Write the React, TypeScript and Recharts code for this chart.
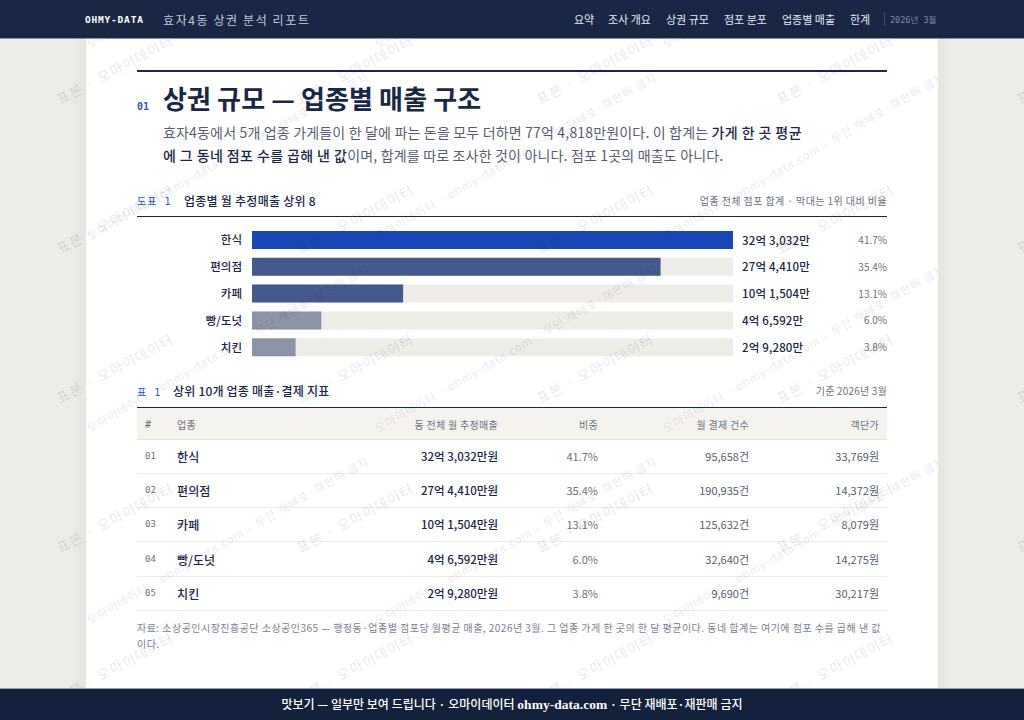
import type { CSSProperties, ReactNode } from "react";
import { BarChart, Bar, Cell, XAxis, YAxis, LabelList } from "recharts";

const categories = ["한식", "편의점", "카페", "빵/도넛", "치킨"];
const monthlySales = [323032, 274410, 101504, 46592, 29280]; // 만원
const shares = [41.7, 35.4, 13.1, 6.0, 3.8];
const payments = [95658, 190935, 125632, 32640, 9690];
const ticketPrices = [33769, 14372, 8079, 14275, 30217];
const navItems = ["요약", "조사 개요", "상권 규모", "점포 분포", "업종별 매출", "한계"];
const navLefts = [574, 608, 666, 724, 782, 850];

const barColors = ["#1a47b8", "#44598c", "#44598c", "#8b93a7", "#8b93a7"];

const NAVY = "#1a2744";
const BLUE = "#2f55c4";
const GRAY = "#6b7280";
const BODY = "#565e6e";
const SANS = "'Noto Sans CJK KR', 'Noto Sans', sans-serif";
const MONO = "'DejaVu Sans Mono', 'Noto Sans CJK KR', monospace";

const chartData = categories.map((name, i) => ({
  name,
  sales: monthlySales[i],
  share: shares[i],
}));

const salesLabel = (v: number) => `${Math.floor(v / 10000)}억 ${(v % 10000).toLocaleString("en-US")}만`;

function T({ x, y, right, style, children }: { x?: number; y: number; right?: number; style?: CSSProperties; children: ReactNode }) {
  // y is the vertical centre of the line
  return (
    <div
      style={{
        position: "absolute",
        left: x,
        right: right !== undefined ? 1024 - right : undefined,
        top: y,
        transform: "translateY(-50%)",
        whiteSpace: "nowrap",
        fontFamily: SANS,
        ...style,
      }}
    >
      {children}
    </div>
  );
}

function ValueLabels(props: any) {
  const { x, y, height, index } = props;
  const cy = y + height / 2 + 0.5;
  const row = chartData[index];
  // plot right edge is x + 481, the track width
  return (
    <g>
      <text x={x + 490} y={cy} dy="0.35em" fontSize={11.5} fontWeight={500} letterSpacing={0.15} fill={NAVY} fontFamily={SANS}>
        {salesLabel(row.sales)}
      </text>
      <text x={x + 635} y={cy} dy="0.35em" fontSize={10} textAnchor="end" fill={GRAY} fontFamily={SANS}>
        {row.share.toFixed(1)}%
      </text>
    </g>
  );
}

function Watermarks() {
  const big = [];
  for (let r = 0; r < 5; r++) {
    for (let c = 0; c < 5; c++) {
      const x = 60 + c * 240;
      const y = 105 + r * 149.5;
      big.push(
        <text key={`a${r}${c}`} x={x} y={y} transform={`rotate(-28 ${x} ${y})`} fontSize={14} letterSpacing={1.2} fill="#1a2744" fillOpacity={0.13} fontFamily={SANS}>
          표본 · 오마이데이터
        </text>
      );
    }
  }
  const small = [];
  for (let r = 0; r < 4; r++) {
    for (let c = 0; c < 3; c++) {
      const x = 4 + c * 288;
      const y = 49 + r * 192;
      small.push(
        <text key={`b${r}${c}`} x={x} y={y} transform={`rotate(-30 ${x} ${y})`} fontSize={11.5} letterSpacing={0.9} fill="#1a2744" fillOpacity={0.12} fontFamily={SANS}>
          오마이데이터 · ohmy-data.com · 무단 재배포·재판매 금지
        </text>
      );
    }
  }
  return (
    <>
      <svg width={1024} height={720} style={{ position: "absolute", left: 0, top: 0, pointerEvents: "none" }}>
        {big}
      </svg>
      {/* the long line only runs on the paper */}
      <svg width={852} height={720} style={{ position: "absolute", left: 86, top: 0, pointerEvents: "none" }}>
        {small}
      </svg>
    </>
  );
}

const headCell: CSSProperties = { fontSize: 10, color: GRAY, letterSpacing: 0.3 };
const cellText: CSSProperties = { fontSize: 11, color: BODY };
const rowTops = [439.5, 473.5, 507.5, 542, 576];
const rowHeight = 34.5;

export default function App() {
  return (
    <div style={{ position: "absolute", left: 0, top: 0, width: 1024, height: 720, overflow: "hidden", background: "#eeece6" }}>
      <div style={{ position: "absolute", left: 86, top: 0, width: 852, height: 720, background: "#fff", boxShadow: "0 0 24px rgba(26,39,68,0.07)" }} />

      <div style={{ position: "absolute", left: 137, top: 70, width: 750, height: 2, background: NAVY }} />
      <T x={137} y={105.5} style={{ fontFamily: MONO, fontSize: 10, fontWeight: 700, color: BLUE }}>01</T>
      <T x={163} y={97} style={{ fontSize: 26, fontWeight: 700, color: NAVY, letterSpacing: 0.12 }}>상권 규모 — 업종별 매출 구조</T>
      <T x={163} y={132} style={{ fontSize: 14, color: BODY, letterSpacing: 0.17 }}>
        효자4동에서 5개 업종 가게들이 한 달에 파는 돈을 모두 더하면 77억 4,818만원이다. 이 합계는 <b style={{ color: NAVY, fontWeight: 500, letterSpacing: 0.4 }}>가게 한 곳 평균</b>
      </T>
      <T x={163} y={154.5} style={{ fontSize: 14, color: BODY, letterSpacing: 0.17 }}>
        <b style={{ color: NAVY, fontWeight: 500, letterSpacing: 0.4 }}>에 그 동네 점포 수를 곱해 낸 값</b>이며, 합계를 따로 조사한 것이 아니다. 점포 1곳의 매출도 아니다.
      </T>

      <T x={137} y={200} style={{ fontFamily: MONO, fontSize: 10, color: BLUE, letterSpacing: 1 }}>도표 1</T>
      <T x={184} y={199.5} style={{ fontSize: 12, fontWeight: 500, color: NAVY, letterSpacing: 0.25 }}>업종별 월 추정매출 상위 8</T>
      <T right={887} y={200} style={{ fontSize: 10, color: GRAY, letterSpacing: 0.42 }}>업종 전체 점포 합계 · 막대는 1위 대비 비율</T>
      <div style={{ position: "absolute", left: 137, top: 216, width: 750, height: 1, background: NAVY }} />

      <div style={{ position: "absolute", left: 137, top: 227 }}>
        <BarChart
          width={750}
          height={134}
          data={chartData}
          layout="vertical"
          margin={{ top: 0, right: 154, bottom: 0, left: 0 }}
        >
          <XAxis type="number" hide domain={[0, "dataMax"]} />
          <YAxis
            type="category"
            dataKey="name"
            width={115}
            tickLine={false}
            axisLine={false}
            tickMargin={4}
            tick={{ fontSize: 11.5, fontWeight: 500, fill: NAVY, fontFamily: SANS }}
          />
          <Bar dataKey="sales" barSize={18} background={{ fill: "#eeece6" }} isAnimationActive={false}>
            {chartData.map((d, i) => (
              <Cell key={d.name} fill={barColors[i]} />
            ))}
            <LabelList dataKey="sales" content={ValueLabels} />
          </Bar>
        </BarChart>
      </div>

      <T x={137} y={391} style={{ fontFamily: MONO, fontSize: 10, color: BLUE, letterSpacing: 1 }}>표 1</T>
      <T x={173} y={389.5} style={{ fontSize: 12, fontWeight: 500, color: NAVY, letterSpacing: 0.2 }}>상위 10개 업종 매출·결제 지표</T>
      <T right={887} y={390} style={{ fontSize: 10, color: GRAY, letterSpacing: 0.2 }}>기준 2026년 3월</T>

      <div style={{ position: "absolute", left: 137, top: 407, width: 750, height: 33, background: "#f5f3ee", borderTop: `1px solid ${NAVY}`, borderBottom: "1px solid #e5e1d8", boxSizing: "border-box" }} />
      <T x={145} y={423.5} style={{ ...headCell, fontFamily: MONO }}>#</T>
      <T x={177} y={423.5} style={headCell}>업종</T>
      <T right={498} y={423.5} style={headCell}>동 전체 월 추정매출</T>
      <T right={598} y={423.5} style={headCell}>비중</T>
      <T right={749} y={423.5} style={headCell}>월 결제 건수</T>
      <T right={879} y={423.5} style={headCell}>객단가</T>

      {categories.map((name, i) => {
        const cy = rowTops[i] + rowHeight / 2 - 0.5;
        return (
          <div key={name}>
            <T x={145} y={cy} style={{ fontFamily: MONO, fontSize: 9, color: GRAY }}>{`0${i + 1}`}</T>
            <T x={177} y={cy} style={{ fontSize: 12, fontWeight: 500, color: NAVY, letterSpacing: 0.1 }}>{name}</T>
            <T right={498} y={cy} style={{ fontSize: 11.5, fontWeight: 500, color: NAVY }}>{salesLabel(monthlySales[i])}원</T>
            <T right={598} y={cy} style={{ ...cellText, color: GRAY }}>{shares[i].toFixed(1)}%</T>
            <T right={749} y={cy} style={cellText}>{payments[i].toLocaleString("en-US")}건</T>
            <T right={879} y={cy} style={cellText}>{ticketPrices[i].toLocaleString("en-US")}원</T>
            <div style={{ position: "absolute", left: 137, top: rowTops[i] + rowHeight - 1, width: 750, height: 1, background: "#eeece6" }} />
          </div>
        );
      })}

      <T x={137} y={626.5} style={{ fontSize: 10, color: "#7b8190", letterSpacing: 0.47 }}>
        자료: 소상공인시장진흥공단 소상공인365 — 행정동·업종별 점포당 월평균 매출, 2026년 3월. 그 업종 가게 한 곳의 한 달 평균이다. 동네 합계는 여기에 점포 수를 곱해 낸 값
      </T>
      <T x={137} y={642.5} style={{ fontSize: 10, color: "#7b8190", letterSpacing: 0.47 }}>이다.</T>

      <Watermarks />

      <div style={{ position: "absolute", left: 0, top: 0, width: 1024, height: 38, background: NAVY, borderBottom: "1px solid #8a92a5" }} />
      <T x={85} y={19} style={{ fontFamily: MONO, fontSize: 9.5, fontWeight: 700, color: "#fff", letterSpacing: 0.8 }}>OHMY-DATA</T>
      <T x={163} y={18.5} style={{ fontSize: 12, color: "#c4cad6", letterSpacing: 1.6 }}>효자4동 상권 분석 리포트</T>
      {navItems.map((item, i) => (
        <T key={item} x={navLefts[i]} y={18.5} style={{ fontSize: 11, color: "#e4e7ee" }}>{item}</T>
      ))}
      <div style={{ position: "absolute", left: 884, top: 12, width: 1, height: 14, background: "#3b4868" }} />
      <T x={890} y={19} style={{ fontFamily: MONO, fontSize: 8.5, color: "#7f89a1" }}>2026년 3월</T>

      <div style={{ position: "absolute", left: 0, top: 688, width: 1024, height: 32, background: "#14213d", borderTop: "1px solid #9aa1b0", boxSizing: "border-box" }} />
      <T x={0} y={704} style={{ width: 1024, textAlign: "center", fontSize: 12, fontWeight: 500, color: "#fff", letterSpacing: 0.02 }}>
        맛보기 — 일부만 보여 드립니다 · 오마이데이터 <span style={{ fontFamily: "'Liberation Serif', serif", fontWeight: 700, fontSize: 13.5 }}>ohmy-data.com</span> · 무단 재배포·재판매 금지
      </T>
    </div>
  );
}
